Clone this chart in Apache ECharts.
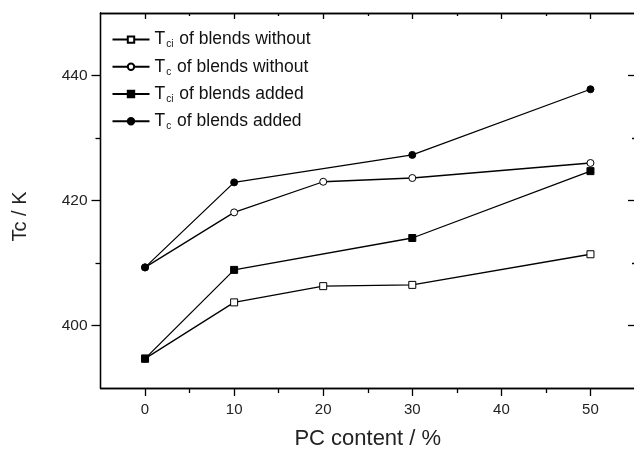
<!DOCTYPE html>
<html>
<head>
<meta charset="utf-8">
<script src="https://cdn.jsdelivr.net/npm/echarts@6/dist/echarts.min.js"></script>
<style>
html,body{margin:0;padding:0;background:#fff;}
#chart{width:634px;height:450px;}
</style>
</head>
<body>
<div id="chart"></div>
<script>
// ---- data ----
var pcContent = [0, 10, 20, 30, 50];
var pcContentAdded = [0, 10, 30, 50];
var tciWithout = [394.7, 403.7, 406.3, 406.5, 411.4];
var tcWithout  = [409.3, 418.1, 423.0, 423.6, 426.0];
var tciAdded   = [394.7, 408.9, 414.0, 424.7];
var tcAdded    = [409.3, 422.9, 427.3, 437.8];
var seriesNames = ['Tci of blends without', 'Tc of blends without', 'Tci of blends added', 'Tc of blends added'];
var xMajorTicks = [0, 10, 20, 30, 40, 50];
var xMinorTicks = [5, 15, 25, 35, 45];
var yMajorTicks = [400, 420, 440];
var yMinorTicks = [410, 430];
var xTitle = 'PC content / %';
var yTitle = 'Tc / K';

function pairs(xs, ys) { return xs.map(function (x, i) { return [x, ys[i]]; }); }

var FONT = '"Liberation Sans", Arial, sans-serif';
var LINE = { color: '#000', width: 1.3 };

function xAx(pos, ticks, len, inside, labels, name) {
  return {
    type: 'value', position: pos, min: -5, max: 55,
    axisLine: { show: true, onZero: false, lineStyle: LINE },
    axisTick: { show: true, inside: inside, length: len, customValues: ticks, lineStyle: LINE },
    axisLabel: labels ? { show: true, customValues: ticks, fontSize: 15, color: '#222', fontFamily: FONT, margin: 14 } : { show: false },
    splitLine: { show: false },
    name: name || '', nameLocation: 'middle', nameGap: 40,
    nameTextStyle: { fontSize: 22, color: '#222', fontFamily: FONT }
  };
}
function yAx(pos, ticks, len, inside, labels, name, showLine) {
  return {
    type: 'value', position: pos, min: 390, max: 450,
    axisLine: { show: showLine, onZero: false, lineStyle: LINE },
    axisTick: { show: true, inside: inside, length: len, customValues: ticks, lineStyle: LINE },
    axisLabel: labels ? { show: true, customValues: ticks, fontSize: 15.5, color: '#222', fontFamily: FONT, margin: 13 } : { show: false },
    splitLine: { show: false },
    name: name || '', nameLocation: 'middle', nameGap: 70,
    nameTextStyle: { fontSize: 20, color: '#222', fontFamily: FONT, padding: [0, 32, 0, 0] }
  };
}

function mkSeries(name, xs, ys, symbol, filled) {
  return {
    name: name, type: 'line', data: pairs(xs, ys),
    symbol: symbol, symbolSize: 7,
    lineStyle: LINE,
    itemStyle: { color: filled ? '#000' : '#fff', borderColor: '#000', borderWidth: 1 },
    emphasis: { disabled: true },
    z: filled ? 3 : 2
  };
}

var subMap = {};
subMap[seriesNames[0]] = ['T', 'ci', ' of blends without'];
subMap[seriesNames[1]] = ['T', 'c', ' of blends without'];
subMap[seriesNames[2]] = ['T', 'ci', ' of blends added'];
subMap[seriesNames[3]] = ['T', 'c', ' of blends added'];

var chart = echarts.init(document.getElementById('chart'), null, { renderer: 'canvas' });
chart.setOption({
  animation: false,
  backgroundColor: '#fff',
  grid: { left: 100.5, top: 13, right: -1, bottom: 62, containLabel: false, outerBoundsMode: 'none' },
  xAxis: [
    xAx('bottom', xMajorTicks, 8, false, true, xTitle),
    xAx('bottom', xMinorTicks, 5, false, false),
    xAx('top', xMajorTicks, 6, true, false),
    xAx('top', xMinorTicks, 3, true, false)
  ],
  yAxis: [
    yAx('left', yMajorTicks, 9, false, true, yTitle, true),
    yAx('left', yMinorTicks, 5, false, false, '', true),
    yAx('right', yMajorTicks, 7, true, false, '', false),
    yAx('right', yMinorTicks, 3, true, false, '', false)
  ],
  legend: {
    orient: 'vertical', left: 106.5, top: 25.6,
    itemWidth: 37, itemHeight: 8, itemGap: 8.2,
    data: seriesNames,
    formatter: function (n) { var p = subMap[n]; return '{t|' + p[0] + '}{s|' + p[1] + '}{t|' + p[2] + '}'; },
    textStyle: {
      color: '#111', fontFamily: FONT,
      rich: {
        t: { fontSize: 17.5, lineHeight: 20, fontFamily: FONT, color: '#111' },
        s: { fontSize: 10, fontFamily: FONT, color: '#111', verticalAlign: 'bottom', padding: [0, 1, 0, 1] }
      }
    }
  },
  series: [
    mkSeries(seriesNames[0], pcContent, tciWithout, 'rect', false),
    mkSeries(seriesNames[1], pcContent, tcWithout, 'circle', false),
    mkSeries(seriesNames[2], pcContentAdded, tciAdded, 'rect', true),
    mkSeries(seriesNames[3], pcContentAdded, tcAdded, 'circle', true)
  ]
});
</script>
</body>
</html>
